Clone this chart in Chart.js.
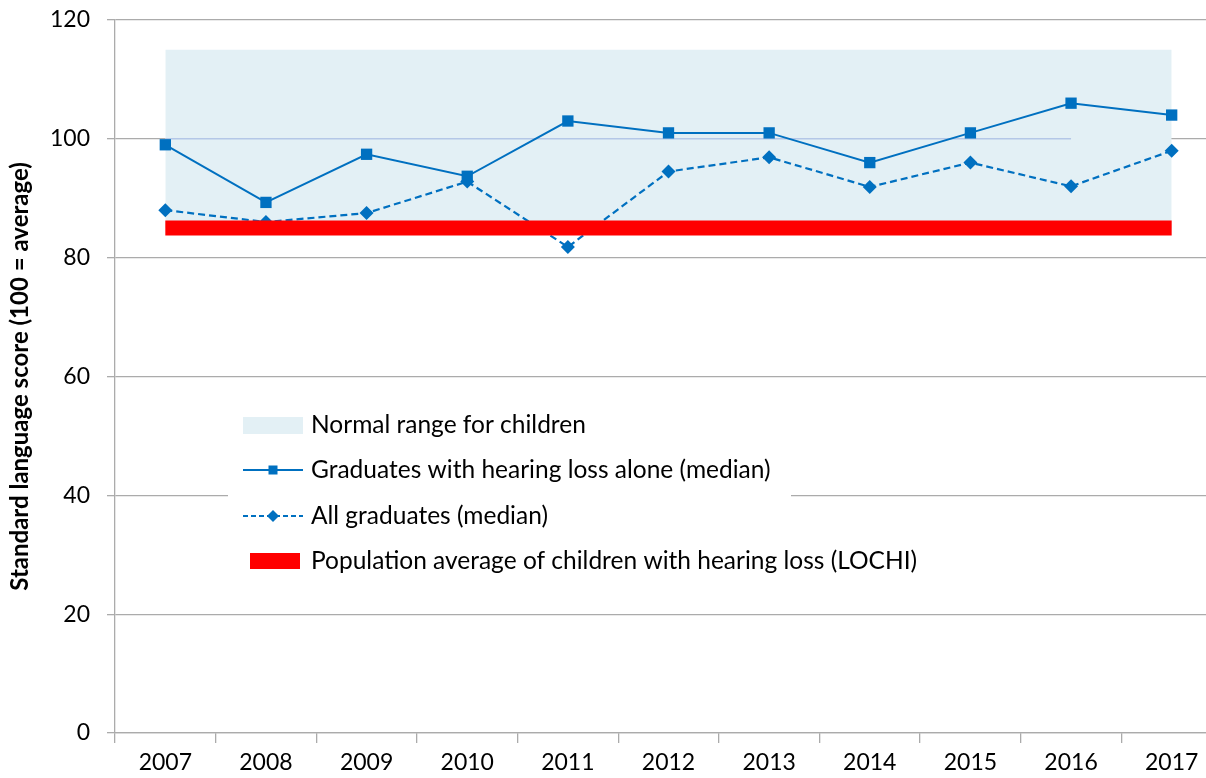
<!DOCTYPE html>
<html>
<head>
<meta charset="utf-8">
<script src="https://cdn.jsdelivr.net/npm/chart.js@4"></script>
<style>
html, body { margin: 0; padding: 0; overflow: hidden; background: #fff; }
#wrap { width: 1230px; height: 778px; }
</style>
</head>
<body>
<div id="wrap"><canvas id="myChart" width="1230" height="778"></canvas></div>
<script>
var anios = ['2007','2008','2009','2010','2011','2012','2013','2014','2015','2016','2017'];
var soloHipoacusia = [99, 89.3, 97.4, 93.7, 103, 101, 101, 96, 101, 106, 104];
var todosGraduados = [88, 86, 87.5, 92.8, 81.8, 94.5, 96.9, 91.9, 96, 92, 98];
var rangoSuperior = [115, 115, 115, 115, 115, 115, 115, 115, 115, 115, 115];
var rangoInferior = [85, 85, 85, 85, 85, 85, 85, 85, 85, 85, 85];
var lineaMedia = [100, 100, 100, 100, 100, 100, 100, 100, 100, 100, null];
var promedioLochi = [85, 85, 85, 85, 85, 85, 85, 85, 85, 85, 85];
var ticksY = [0, 20, 40, 60, 80, 100, 120];

var etiquetas = [
    'Normal range for children',
    'Graduates with hearing loss alone (median)',
    'All graduates (median)',
    'Population average of children with hearing loss (LOCHI)'
];

var azul = '#0070c0';
var celeste = '#e3f0f5';
var rojo = '#ff0000';
var gris = '#ababab';
var fuente = 'Lato, "Noto Sans", sans-serif';

// leyenda dibujada dentro del area del grafico
var leyenda = {
    id: 'leyenda',
    afterDraw: function(c){
        var ctx = c.ctx;
        ctx.save();
        ctx.fillStyle = '#fff';
        ctx.fillRect(228, 394, 563, 196);

        ctx.fillStyle = celeste;
        ctx.fillRect(243, 417, 60, 17);

        ctx.strokeStyle = azul;
        ctx.lineWidth = 2;
        ctx.beginPath();
        ctx.moveTo(243, 470); ctx.lineTo(303, 470);
        ctx.stroke();
        ctx.fillStyle = azul;
        ctx.fillRect(268.5, 465.5, 9, 9);

        ctx.setLineDash([5, 3]);
        ctx.beginPath();
        ctx.moveTo(243, 516); ctx.lineTo(303, 516);
        ctx.stroke();
        ctx.setLineDash([]);
        ctx.beginPath();
        ctx.moveTo(273, 510); ctx.lineTo(279, 516); ctx.lineTo(273, 522); ctx.lineTo(267, 516);
        ctx.closePath();
        ctx.fill();

        ctx.fillStyle = rojo;
        ctx.fillRect(250, 553, 50, 16);

        ctx.fillStyle = '#000';
        ctx.font = '24.5px ' + fuente;
        ctx.textBaseline = 'middle';
        var ys = [425, 470, 516, 561];
        for (var i = 0; i < etiquetas.length; i++) {
            ctx.fillText(etiquetas[i], 311, ys[i]);
        }
        ctx.restore();
    }
};

var ctx = document.getElementById('myChart');
var chart = new Chart(ctx, {
    type: 'line',
    data: {
        labels: anios,
        datasets: [
            {
                label: etiquetas[1],
                data: soloHipoacusia,
                borderColor: azul,
                backgroundColor: azul,
                borderWidth: 2,
                pointStyle: 'rect',
                pointRadius: 8,
                pointBorderWidth: 0,
                tension: 0,
                fill: false
            },
            {
                label: etiquetas[3],
                data: promedioLochi,
                borderColor: rojo,
                borderWidth: 15,
                borderCapStyle: 'butt',
                pointRadius: 0,
                fill: false
            },
            {
                label: etiquetas[2],
                data: todosGraduados,
                borderColor: azul,
                backgroundColor: azul,
                borderWidth: 2.2,
                borderDash: [7, 4],
                pointStyle: 'rectRot',
                pointRadius: 7,
                pointBorderWidth: 0,
                tension: 0,
                fill: false
            },
            {
                label: 'media',
                data: lineaMedia,
                borderColor: '#b4c7e7',
                borderWidth: 1.5,
                pointRadius: 0,
                spanGaps: false,
                fill: false
            },
            {
                label: etiquetas[0],
                data: rangoSuperior,
                borderWidth: 0,
                borderColor: 'rgba(0,0,0,0)',
                backgroundColor: celeste,
                pointRadius: 0,
                fill: '+1'
            },
            {
                label: 'inferior',
                data: rangoInferior,
                borderWidth: 0,
                borderColor: 'rgba(0,0,0,0)',
                pointRadius: 0,
                fill: false
            }
        ]
    },
    options: {
        responsive: false,
        animation: false,
        layout: { padding: { top: 20, right: 6, left: 0, bottom: 0 } },
        plugins: {
            legend: { display: false },
            tooltip: { enabled: false }
        },
        scales: {
            x: {
                offset: true,
                grid: {
                    offset: true,
                    drawOnChartArea: false,
                    color: gris,
                    tickLength: 10,
                    lineWidth: 1.3
                },
                border: { color: gris, width: 1.3 },
                ticks: {
                    color: '#000',
                    font: { family: fuente, size: 23 },
                    padding: 6,
                    maxRotation: 0
                },
                afterFit: function(s){ s.height = 45; s.paddingLeft = 0; s.paddingRight = 0; }
            },
            y: {
                min: 0,
                max: 120,
                afterBuildTicks: function(s){
                    s.ticks = ticksY.map(function(v){ return { value: v }; });
                },
                grid: {
                    color: gris,
                    tickLength: 8,
                    lineWidth: 1.3
                },
                border: { color: gris, width: 1.3 },
                ticks: {
                    color: '#000',
                    font: { family: fuente, size: 23 },
                    padding: 17
                },
                title: {
                    display: true,
                    text: 'Standard language score (100 = average)',
                    color: '#000',
                    font: { family: fuente, size: 24, weight: 'bold' },
                    padding: { top: 6, bottom: 0 }
                },
                afterFit: function(s){ s.width = 115; s.paddingTop = 0; s.paddingBottom = 0; }
            }
        }
    },
    plugins: [leyenda]
});
</script>
</body>
</html>
